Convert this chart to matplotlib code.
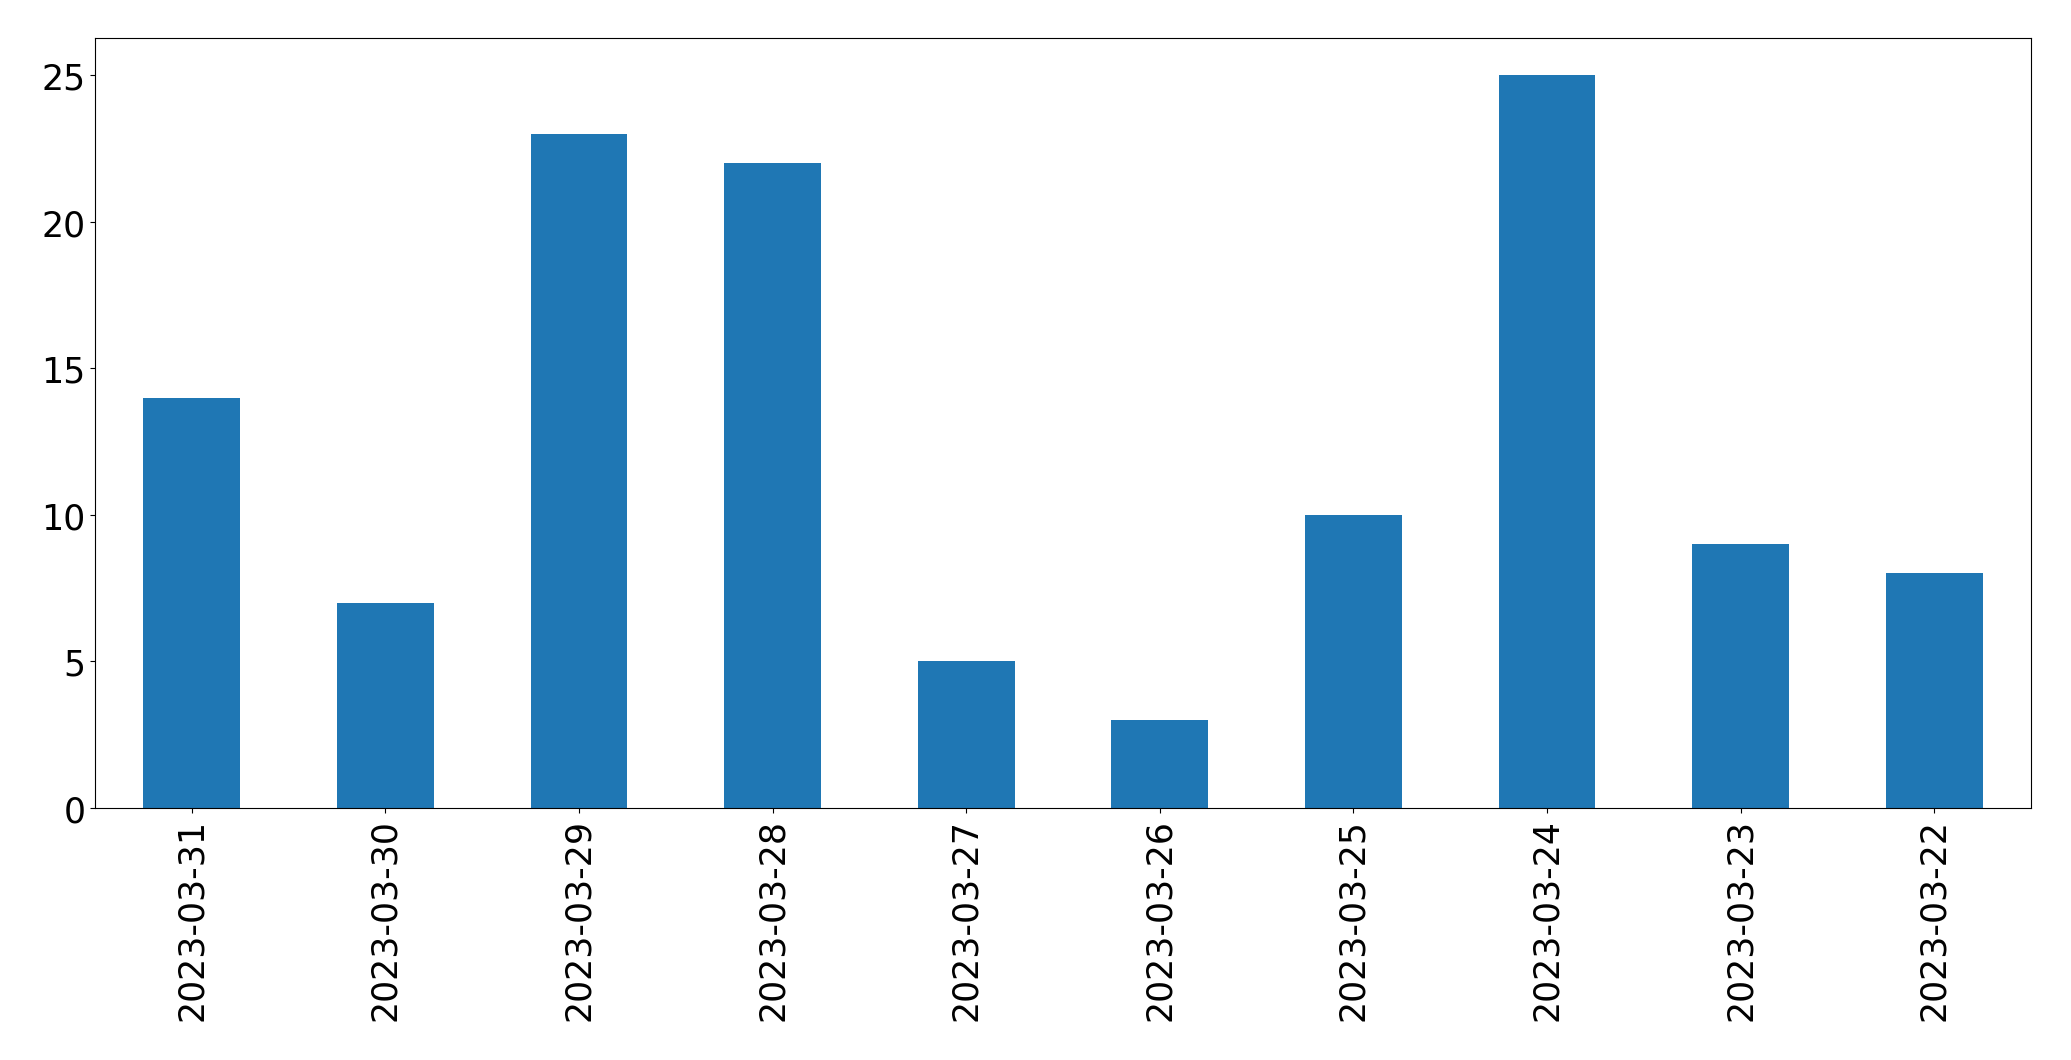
import pandas as pd
import matplotlib
matplotlib.use('Agg')
import matplotlib.pyplot as plt

# Dados: contagem por dia (ordem decrescente de data)
datas = ['2023-03-31', '2023-03-30', '2023-03-29', '2023-03-28', '2023-03-27',
         '2023-03-26', '2023-03-25', '2023-03-24', '2023-03-23', '2023-03-22']
contagens = [14, 7, 23, 22, 5, 3, 10, 25, 9, 8]

df = pd.DataFrame({'date': datas, 'count': contagens})

plt.rcParams['font.size'] = 25
fig, ax = plt.subplots(figsize=(20.71, 10.609), dpi=100)
df.plot(x='date', y='count', kind='bar', ax=ax, legend=False, color='#1f77b4')
ax.set_xlabel('')
ax.tick_params(labelsize=25)
fig.subplots_adjust(left=0.0459, right=0.9807, top=0.963, bottom=0.2375)
fig.savefig('out.png', dpi=100)
